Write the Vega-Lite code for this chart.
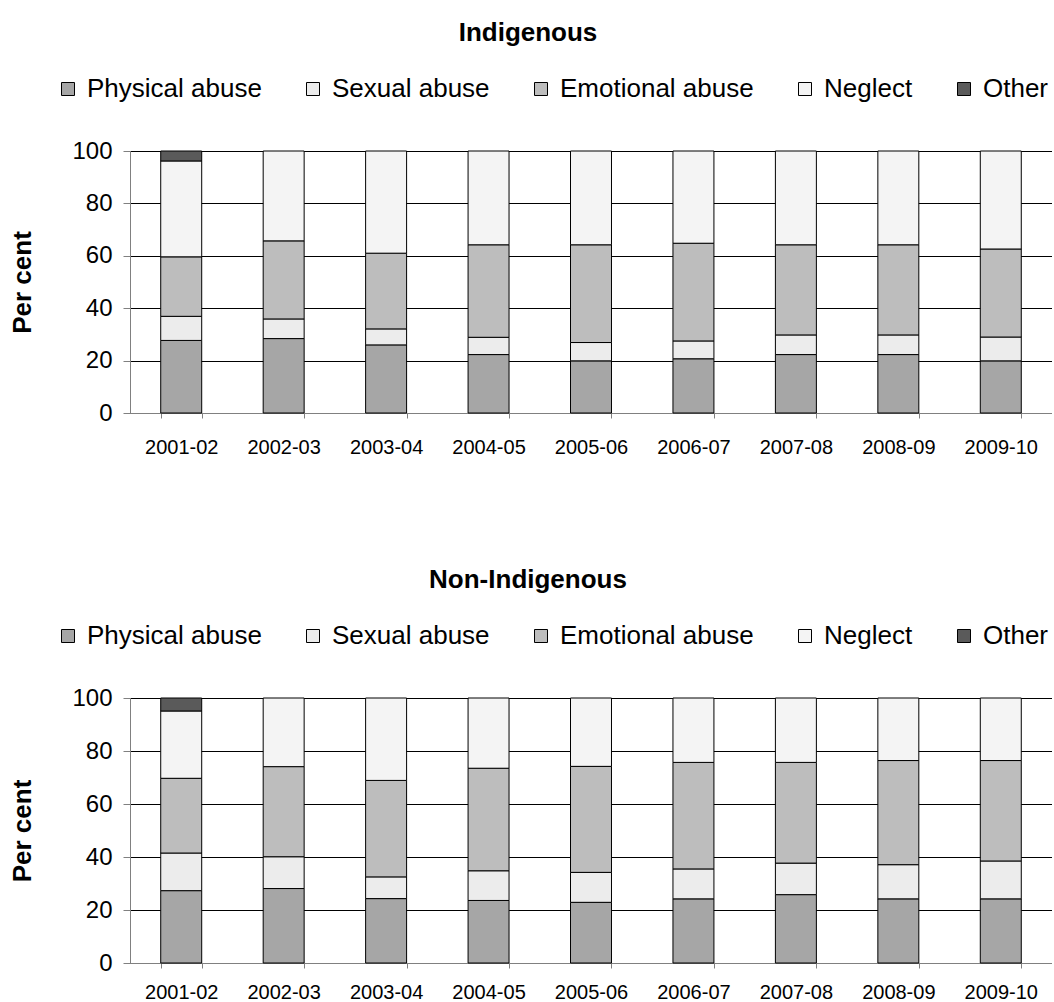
{
  "$schema": "https://vega.github.io/schema/vega-lite/v6.json",
  "padding": {"left": 9, "top": 20, "right": 0, "bottom": 0},
  "autosize": {"type": "pad"},
  "background": "white",
  "config": {
    "font": "Liberation Sans",
    "view": {"stroke": null},
    "concat": {"spacing": 110},
    "axisX": {
      "title": null, "labelAngle": 0, "tickBand": "extent", "grid": false,
      "labelFontSize": 20, "labelPadding": 19, "tickSize": 5,
      "domainColor": "#808080", "tickColor": "#808080", "labelColor": "black", "labelFont": "Liberation Sans"
    },
    "axisY": {
      "values": [0, 20, 40, 60, 80, 100], "grid": true, "gridColor": "black", "gridOpacity": 1, "gridWidth": 1,
      "labelFontSize": 24, "labelPadding": 11, "tickSize": 7,
      "domainColor": "#808080", "tickColor": "#808080", "labelColor": "black",
      "titleFontSize": 26, "titleFontWeight": "bold", "titleColor": "black", "titlePadding": 36, "labelFont": "Liberation Sans", "titleFont": "Liberation Sans"
    },
    "legend": {
      "orient": "none", "legendX": -75, "legendY": -75, "direction": "horizontal", "title": null,
      "labelFontSize": 26, "labelColor": "black", "labelFont": "Liberation Sans", "symbolType": "square", "symbolSize": 169,
      "symbolStrokeColor": "black", "symbolStrokeWidth": 1, "labelOffset": 6, "columnPadding": 38, "labelLimit": 400, "padding": 0
    },
    "title": {"fontSize": 26, "fontWeight": "bold", "font": "Liberation Sans", "color": "black", "anchor": "middle", "dx": -63, "offset": 30}
  },
  "data": {"values": [
    {"group": "Indigenous", "year": "2001-02", "type": "Physical abuse", "ord": 1, "value": 27.7},
    {"group": "Indigenous", "year": "2001-02", "type": "Sexual abuse", "ord": 2, "value": 9.2},
    {"group": "Indigenous", "year": "2001-02", "type": "Emotional abuse", "ord": 3, "value": 22.7},
    {"group": "Indigenous", "year": "2001-02", "type": "Neglect", "ord": 4, "value": 36.6},
    {"group": "Indigenous", "year": "2001-02", "type": "Other", "ord": 5, "value": 3.8},
    {"group": "Indigenous", "year": "2002-03", "type": "Physical abuse", "ord": 1, "value": 28.4},
    {"group": "Indigenous", "year": "2002-03", "type": "Sexual abuse", "ord": 2, "value": 7.5},
    {"group": "Indigenous", "year": "2002-03", "type": "Emotional abuse", "ord": 3, "value": 29.8},
    {"group": "Indigenous", "year": "2002-03", "type": "Neglect", "ord": 4, "value": 34.3},
    {"group": "Indigenous", "year": "2003-04", "type": "Physical abuse", "ord": 1, "value": 26.0},
    {"group": "Indigenous", "year": "2003-04", "type": "Sexual abuse", "ord": 2, "value": 6.1},
    {"group": "Indigenous", "year": "2003-04", "type": "Emotional abuse", "ord": 3, "value": 28.9},
    {"group": "Indigenous", "year": "2003-04", "type": "Neglect", "ord": 4, "value": 39.0},
    {"group": "Indigenous", "year": "2004-05", "type": "Physical abuse", "ord": 1, "value": 22.3},
    {"group": "Indigenous", "year": "2004-05", "type": "Sexual abuse", "ord": 2, "value": 6.6},
    {"group": "Indigenous", "year": "2004-05", "type": "Emotional abuse", "ord": 3, "value": 35.3},
    {"group": "Indigenous", "year": "2004-05", "type": "Neglect", "ord": 4, "value": 35.8},
    {"group": "Indigenous", "year": "2005-06", "type": "Physical abuse", "ord": 1, "value": 19.9},
    {"group": "Indigenous", "year": "2005-06", "type": "Sexual abuse", "ord": 2, "value": 7.0},
    {"group": "Indigenous", "year": "2005-06", "type": "Emotional abuse", "ord": 3, "value": 37.3},
    {"group": "Indigenous", "year": "2005-06", "type": "Neglect", "ord": 4, "value": 35.8},
    {"group": "Indigenous", "year": "2006-07", "type": "Physical abuse", "ord": 1, "value": 20.7},
    {"group": "Indigenous", "year": "2006-07", "type": "Sexual abuse", "ord": 2, "value": 6.8},
    {"group": "Indigenous", "year": "2006-07", "type": "Emotional abuse", "ord": 3, "value": 37.3},
    {"group": "Indigenous", "year": "2006-07", "type": "Neglect", "ord": 4, "value": 35.2},
    {"group": "Indigenous", "year": "2007-08", "type": "Physical abuse", "ord": 1, "value": 22.3},
    {"group": "Indigenous", "year": "2007-08", "type": "Sexual abuse", "ord": 2, "value": 7.5},
    {"group": "Indigenous", "year": "2007-08", "type": "Emotional abuse", "ord": 3, "value": 34.4},
    {"group": "Indigenous", "year": "2007-08", "type": "Neglect", "ord": 4, "value": 35.8},
    {"group": "Indigenous", "year": "2008-09", "type": "Physical abuse", "ord": 1, "value": 22.3},
    {"group": "Indigenous", "year": "2008-09", "type": "Sexual abuse", "ord": 2, "value": 7.5},
    {"group": "Indigenous", "year": "2008-09", "type": "Emotional abuse", "ord": 3, "value": 34.4},
    {"group": "Indigenous", "year": "2008-09", "type": "Neglect", "ord": 4, "value": 35.8},
    {"group": "Indigenous", "year": "2009-10", "type": "Physical abuse", "ord": 1, "value": 19.9},
    {"group": "Indigenous", "year": "2009-10", "type": "Sexual abuse", "ord": 2, "value": 9.1},
    {"group": "Indigenous", "year": "2009-10", "type": "Emotional abuse", "ord": 3, "value": 33.6},
    {"group": "Indigenous", "year": "2009-10", "type": "Neglect", "ord": 4, "value": 37.4},
    {"group": "Non-Indigenous", "year": "2001-02", "type": "Physical abuse", "ord": 1, "value": 27.3},
    {"group": "Non-Indigenous", "year": "2001-02", "type": "Sexual abuse", "ord": 2, "value": 14.2},
    {"group": "Non-Indigenous", "year": "2001-02", "type": "Emotional abuse", "ord": 3, "value": 28.2},
    {"group": "Non-Indigenous", "year": "2001-02", "type": "Neglect", "ord": 4, "value": 25.4},
    {"group": "Non-Indigenous", "year": "2001-02", "type": "Other", "ord": 5, "value": 4.9},
    {"group": "Non-Indigenous", "year": "2002-03", "type": "Physical abuse", "ord": 1, "value": 28.1},
    {"group": "Non-Indigenous", "year": "2002-03", "type": "Sexual abuse", "ord": 2, "value": 12.0},
    {"group": "Non-Indigenous", "year": "2002-03", "type": "Emotional abuse", "ord": 3, "value": 34.0},
    {"group": "Non-Indigenous", "year": "2002-03", "type": "Neglect", "ord": 4, "value": 25.9},
    {"group": "Non-Indigenous", "year": "2003-04", "type": "Physical abuse", "ord": 1, "value": 24.3},
    {"group": "Non-Indigenous", "year": "2003-04", "type": "Sexual abuse", "ord": 2, "value": 8.2},
    {"group": "Non-Indigenous", "year": "2003-04", "type": "Emotional abuse", "ord": 3, "value": 36.4},
    {"group": "Non-Indigenous", "year": "2003-04", "type": "Neglect", "ord": 4, "value": 31.1},
    {"group": "Non-Indigenous", "year": "2004-05", "type": "Physical abuse", "ord": 1, "value": 23.6},
    {"group": "Non-Indigenous", "year": "2004-05", "type": "Sexual abuse", "ord": 2, "value": 11.2},
    {"group": "Non-Indigenous", "year": "2004-05", "type": "Emotional abuse", "ord": 3, "value": 38.7},
    {"group": "Non-Indigenous", "year": "2004-05", "type": "Neglect", "ord": 4, "value": 26.5},
    {"group": "Non-Indigenous", "year": "2005-06", "type": "Physical abuse", "ord": 1, "value": 22.9},
    {"group": "Non-Indigenous", "year": "2005-06", "type": "Sexual abuse", "ord": 2, "value": 11.3},
    {"group": "Non-Indigenous", "year": "2005-06", "type": "Emotional abuse", "ord": 3, "value": 40.0},
    {"group": "Non-Indigenous", "year": "2005-06", "type": "Neglect", "ord": 4, "value": 25.8},
    {"group": "Non-Indigenous", "year": "2006-07", "type": "Physical abuse", "ord": 1, "value": 24.2},
    {"group": "Non-Indigenous", "year": "2006-07", "type": "Sexual abuse", "ord": 2, "value": 11.3},
    {"group": "Non-Indigenous", "year": "2006-07", "type": "Emotional abuse", "ord": 3, "value": 40.2},
    {"group": "Non-Indigenous", "year": "2006-07", "type": "Neglect", "ord": 4, "value": 24.3},
    {"group": "Non-Indigenous", "year": "2007-08", "type": "Physical abuse", "ord": 1, "value": 25.8},
    {"group": "Non-Indigenous", "year": "2007-08", "type": "Sexual abuse", "ord": 2, "value": 11.9},
    {"group": "Non-Indigenous", "year": "2007-08", "type": "Emotional abuse", "ord": 3, "value": 38.0},
    {"group": "Non-Indigenous", "year": "2007-08", "type": "Neglect", "ord": 4, "value": 24.3},
    {"group": "Non-Indigenous", "year": "2008-09", "type": "Physical abuse", "ord": 1, "value": 24.2},
    {"group": "Non-Indigenous", "year": "2008-09", "type": "Sexual abuse", "ord": 2, "value": 12.9},
    {"group": "Non-Indigenous", "year": "2008-09", "type": "Emotional abuse", "ord": 3, "value": 39.3},
    {"group": "Non-Indigenous", "year": "2008-09", "type": "Neglect", "ord": 4, "value": 23.6},
    {"group": "Non-Indigenous", "year": "2009-10", "type": "Physical abuse", "ord": 1, "value": 24.2},
    {"group": "Non-Indigenous", "year": "2009-10", "type": "Sexual abuse", "ord": 2, "value": 14.3},
    {"group": "Non-Indigenous", "year": "2009-10", "type": "Emotional abuse", "ord": 3, "value": 37.9},
    {"group": "Non-Indigenous", "year": "2009-10", "type": "Neglect", "ord": 4, "value": 23.6}
  ]},
  "resolve": {"legend": {"color": "independent"}},
  "vconcat": [
    {
      "title": "Indigenous",
      "width": 922, "height": 262,
      "transform": [{"filter": "datum.group === 'Indigenous'"}],
      "mark": {"type": "bar", "stroke": "black", "strokeWidth": 1},
      "encoding": {
        "x": {"field": "year", "type": "ordinal", "scale": {"paddingInner": 0.6, "paddingOuter": 0.3}},
        "y": {"field": "value", "type": "quantitative", "stack": "zero", "scale": {"domain": [0, 100], "nice": false}, "title": "Per cent"},
        "color": {"field": "type", "type": "nominal",
          "scale": {"domain": ["Physical abuse", "Sexual abuse", "Emotional abuse", "Neglect", "Other"], "range": ["#a6a6a6", "#ececec", "#bdbdbd", "#f4f4f4", "#5a5a5a"]}},
        "order": {"field": "ord", "type": "quantitative"}
      }
    },
    {
      "title": "Non-Indigenous",
      "width": 922, "height": 265,
      "transform": [{"filter": "datum.group === 'Non-Indigenous'"}],
      "mark": {"type": "bar", "stroke": "black", "strokeWidth": 1},
      "encoding": {
        "x": {"field": "year", "type": "ordinal", "scale": {"paddingInner": 0.6, "paddingOuter": 0.3}, "axis": {"labelPadding": 14}},
        "y": {"field": "value", "type": "quantitative", "stack": "zero", "scale": {"domain": [0, 100], "nice": false}, "title": "Per cent"},
        "color": {"field": "type", "type": "nominal",
          "scale": {"domain": ["Physical abuse", "Sexual abuse", "Emotional abuse", "Neglect", "Other"], "range": ["#a6a6a6", "#ececec", "#bdbdbd", "#f4f4f4", "#5a5a5a"]}},
        "order": {"field": "ord", "type": "quantitative"}
      }
    }
  ]
}
